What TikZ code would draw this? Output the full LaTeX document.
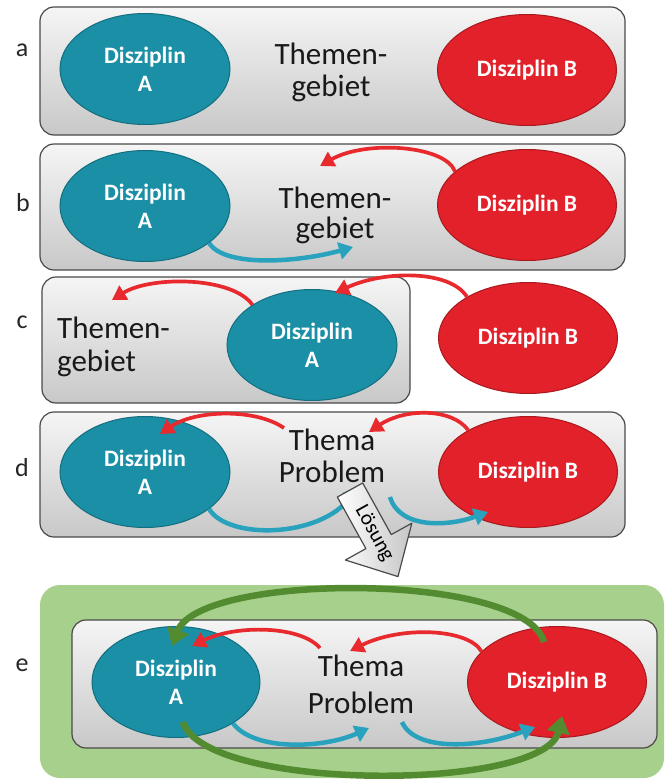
\documentclass[tikz,border=0pt]{standalone}
\usepackage{fontspec}
\setmainfont{Carlito}
\usetikzlibrary{shapes.geometric,arrows.meta}
\definecolor{tealA}{HTML}{1A8FA6}
\definecolor{tealD}{HTML}{136E7F}
\definecolor{redA}{HTML}{E3212A}
\definecolor{redD}{HTML}{A8181D}
\definecolor{redL}{HTML}{E82A2E}
\definecolor{blueL}{HTML}{29A3BD}
\definecolor{greenL}{HTML}{538C30}
\definecolor{greenBG}{HTML}{A8D08D}
\definecolor{boxborder}{HTML}{4A4A4A}
\definecolor{boxtop}{HTML}{F5F5F5}
\definecolor{boxbot}{HTML}{C8C8C8}
\begin{document}
\begin{tikzpicture}[x=1pt,y=-1pt,
  panel/.style={draw=boxborder, line width=1.2pt, rounded corners=14pt, top color=boxtop, bottom color=boxbot, inner sep=0pt},
  ellA/.style={ellipse, draw=tealD, line width=1pt, fill=tealA, text=white, font=\bfseries\fontsize{23.5}{28}\selectfont, align=center, inner sep=0pt, minimum width=170pt, minimum height=111pt},
  ellB/.style={ellipse, draw=redD, line width=1pt, fill=redA, text=white, font=\bfseries\fontsize{23.5}{28}\selectfont, align=center, inner sep=0pt, minimum width=179pt, minimum height=111pt},
  theme/.style={font=\fontsize{31}{#1}\selectfont, align=center, text=black!90, inner sep=0pt},
  lbl/.style={font=\fontsize{26}{30}\selectfont, text=black!85, inner sep=0pt},
  redarr/.style={draw=redL, line width=3.7pt, -{Triangle[length=14pt,width=16pt]}},
  bluearr/.style={draw=blueL, line width=4.5pt, -{Triangle[length=14pt,width=17pt]}},
  greenarr/.style={draw=greenL, line width=6.5pt, -{Triangle[length=17pt,width=22pt]}}
]
\useasboundingbox (0,0) rectangle (664,779);

% ---------- panel a ----------
\node[lbl] (la) at (22,50) {a};
\node[panel, minimum width=585pt, minimum height=128pt] (boxa) at (332.5,71) {};
\node[theme=32] (Ta) at (331,72) {Themen-\\gebiet};
\node[ellA] (Aa) at (145,69) {Disziplin\\A};
\node[ellB] (Ba) at (527,70) {Disziplin B};

% ---------- panel b ----------
\node[lbl] (lb) at (23,203) {b};
\node[panel, minimum width=585pt, minimum height=126pt] (boxb) at (332.5,207) {};
\node[theme=30] (Tb) at (335,215) {Themen-\\gebiet};
\node[ellA] (Ab) at (145,206) {Disziplin\\A};
\node[ellB] (Bb) at (527,205) {Disziplin B};
\coordinate (rb1) at (320,166);
\draw[redarr] (Bb.155) .. controls (445,145) and (365,140) .. (rb1);
\coordinate (bb1) at (353,247);
\draw[bluearr] (Ab.-30) .. controls (225,268) and (300,262) .. (bb1);

% ---------- panel c ----------
\node[lbl] (lc) at (22,322) {c};
\node[panel, minimum width=368pt, minimum height=126pt] (boxc) at (226,340) {};
\node[theme=33, align=left, anchor=west] (Tc) at (57,347) {Themen-\\gebiet};
\node[ellA] (Ac) at (312,345) {Disziplin\\A};
\node[ellB] (Bc) at (528,338) {Disziplin B};
\coordinate (rc1) at (335,293);
\draw[redarr] (Bc.146) .. controls (450,270) and (385,270) .. (rc1);
\coordinate (rc2) at (112,300);
\draw[redarr] (Ac.146) .. controls (232,276) and (150,276) .. (rc2);

% ---------- panel d ----------
\node[lbl] (ld) at (22,468) {d};
\node[panel, minimum width=585pt, minimum height=125pt] (boxd) at (332.5,474.5) {};
\node[theme=32] (Td) at (332,456) {Thema\\Problem};
\node[ellA] (Ad) at (145,472) {Disziplin\\A};
\node[ellB] (Bd) at (528,472) {Disziplin B};
\coordinate (rd1s) at (284,428);
\coordinate (rd1) at (160,434);
\draw[redarr] (rd1s) .. controls (255,408) and (195,410) .. (rd1);
\coordinate (rd2) at (369,432);
\draw[redarr] (Bd.145) .. controls (452,408) and (405,408) .. (rd2);
\coordinate (bd1) at (358,487);
\draw[bluearr] (Ad.-30) .. controls (228,540) and (320,538) .. (bd1);
\coordinate (bd2s) at (390,497);
\coordinate (bd2) at (488,512);
\draw[bluearr] (bd2s) .. controls (400,530) and (450,526) .. (bd2);
% Loesung arrow
\begin{scope}[shift={(350,490)}, rotate=-61]
  \path[draw=boxborder, line width=1.2pt, line join=round, left color=white, right color=gray!45]
    (0,-14.5) -- (59,-14.5) -- (59,-38) -- (99,0) -- (59,38) -- (59,14.5) -- (0,14.5) -- cycle;
  \node[rotate=-61, font=\fontsize{21}{21}\selectfont, inner sep=0pt] (loesung) at (50,0) {Lösung};
\end{scope}

% ---------- panel e ----------
\node[lbl] (le) at (22,665) {e};
\path[fill=greenBG, rounded corners=20pt] (40,585) rectangle (664,778);
\node[panel, minimum width=585pt, minimum height=128pt] (boxe) at (364.5,684) {};
\node[theme=37] (Te) at (361,684) {Thema\\Problem};
\node[ellA, minimum width=168pt] (Ae) at (176,682) {Disziplin\\A};
\node[ellB] (Be) at (557,682) {Disziplin B};
\coordinate (re1s) at (320,648);
\coordinate (re1) at (192,646);
\draw[redarr] (re1s) .. controls (300,625) and (235,625) .. (re1);
\coordinate (re2) at (350,651);
\draw[redarr] (Be.158) .. controls (468,628) and (400,626) .. (re2);
\coordinate (be1) at (369,728);
\draw[bluearr] (Ae.-36) .. controls (255,752) and (325,748) .. (be1);
\coordinate (be2s) at (402,722);
\coordinate (be2) at (535,727);
\draw[bluearr] (be2s) .. controls (415,752) and (480,748) .. (be2);
\coordinate (ge0) at (544,642);
\coordinate (ge1) at (172,646);
\draw[greenarr] (ge0) .. controls (525,572) and (200,572) .. (ge1);
\coordinate (ge2s) at (183,722);
\coordinate (ge2) at (562,716);
\draw[greenarr] (ge2s) .. controls (205,792) and (545,792) .. (ge2);
\end{tikzpicture}
\end{document}
